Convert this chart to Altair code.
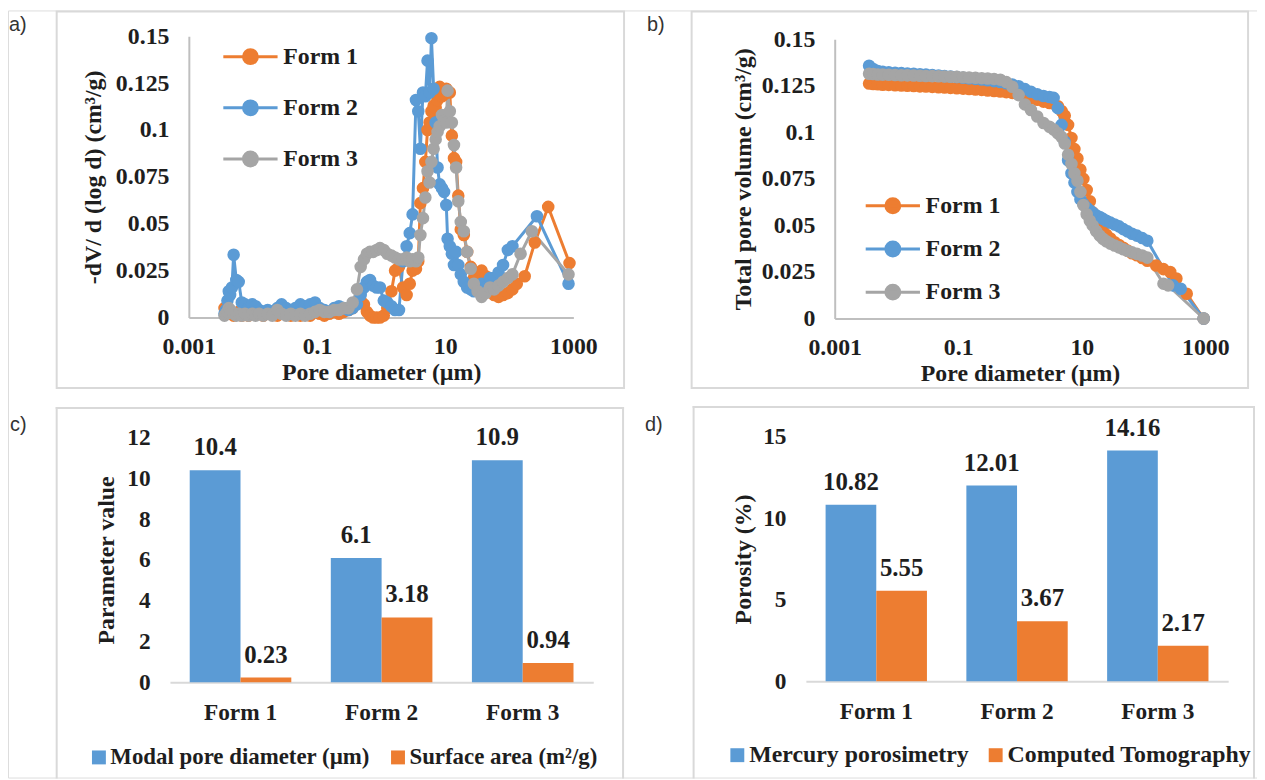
import altair as alt
import pandas as pd

FONT = "Liberation Serif"
TAGFONT = "Liberation Sans"
TXT = "#1e1e1e"
AXC = "#BFBFBF"
FRC = "#D9D9D9"
W, H = 1257, 772

forms = ["Form 1", "Form 2", "Form 3"]
form_colors = ["#ED7D31", "#5B9BD5", "#A5A5A5"]
x_ticks = [0.001, 0.1, 10, 1000]
pv_yticks = [0, 0.025, 0.05, 0.075, 0.1, 0.125, 0.15]

# ---------- panel a: -dV/d(log d) ----------
a_diam = [0.0036, 0.0038, 0.004, 0.0042, 0.0044, 0.0047, 0.005, 0.0055, 0.006, 0.0067,
          0.0075, 0.0085, 0.0097, 0.011, 0.0125, 0.0145, 0.017, 0.02, 0.024, 0.028,
          0.033, 0.039, 0.046, 0.055, 0.065, 0.078, 0.093, 0.11, 0.13, 0.155,
          0.185, 0.22, 0.26, 0.31, 0.36, 0.42, 0.48, 0.54, 0.6, 0.67,
          0.75, 0.85, 0.96, 1.1, 1.25, 1.45, 1.65, 1.9, 2.2, 2.5,
          2.8, 3.1, 3.5, 3.8, 4.1, 4.5, 4.9, 5.3, 5.7, 6.1,
          6.6, 7.1, 7.6, 8.2, 8.9, 9.6, 10.4, 10.9, 11.8, 12.7,
          13.7, 14.8, 16, 17.5, 19.5, 22, 25, 28, 32, 37,
          43, 50, 58, 68, 80, 95, 112]
a_form1 = [0.005, 0.003, 0.002, 0.002, 0.003, 0.002, 0.001, 0.002, 0.003, 0.001,
           0.002, 0.001, 0.002, 0.004, 0.002, 0.001, 0.003, 0.002, 0.001, 0.002,
           0.003, 0.001, 0.002, 0.001, 0.002, 0.001, 0.003, 0.002, 0.001, 0.002,
           0.003, 0.002, 0.003, 0.004, 0.005, 0.008, 0.009, 0.007, 0.003, 0.001,
           0.0, 0.0, 0.0, 0.001, 0.005, 0.014, 0.025, 0.027, 0.016, 0.012,
           0.018, 0.025, 0.026, 0.030, 0.061, 0.069, 0.083, 0.100, 0.104, 0.110,
           0.113, 0.112, 0.116, 0.123, 0.118, 0.119, 0.122, 0.121, 0.120, 0.097,
           0.085, 0.083, 0.065, 0.047, 0.044, 0.035, 0.027, 0.021, 0.023, 0.025,
           0.022, 0.014, 0.012, 0.011, 0.012, 0.013, 0.015]
a_form2 = [0.002, 0.004, 0.009, 0.014, 0.012, 0.016, 0.0335, 0.020, 0.019, 0.008,
           0.007, 0.005, 0.007, 0.006, 0.004, 0.003, 0.004, 0.003, 0.005, 0.007,
           0.005, 0.004, 0.005, 0.007, 0.006, 0.007, 0.008, 0.005, 0.004, 0.003,
           0.005, 0.006, 0.005, 0.004, 0.005, 0.007, 0.012, 0.016, 0.019, 0.020,
           0.017, 0.016, 0.016, 0.009, 0.008, 0.006, 0.004, 0.004, 0.030, 0.038,
           0.045, 0.055, 0.116, 0.110, 0.090, 0.120, 0.118, 0.137, 0.120, 0.149,
           0.122, 0.104, 0.080, 0.071, 0.069, 0.067, 0.060, 0.042, 0.038, 0.034,
           0.028, 0.035, 0.028, 0.023, 0.019, 0.016, 0.015, 0.014, 0.016, 0.018,
           0.016, 0.021, 0.021, 0.024, 0.028, 0.036, 0.038]
a_form3 = [0.001, 0.002, 0.003, 0.005, 0.004, 0.003, 0.002, 0.001, 0.002, 0.001,
           0.002, 0.001, 0.002, 0.001, 0.002, 0.001, 0.002, 0.001, 0.004, 0.002,
           0.001, 0.002, 0.001, 0.002, 0.001, 0.002, 0.003, 0.004, 0.003, 0.003,
           0.004, 0.004, 0.005, 0.005, 0.008, 0.015, 0.027, 0.031, 0.034, 0.035,
           0.035, 0.036, 0.037, 0.036, 0.034, 0.033, 0.032, 0.031, 0.031, 0.032,
           0.030, 0.031, 0.030, 0.032, 0.044, 0.053, 0.064, 0.078, 0.072, 0.083,
           0.090, 0.095, 0.099, 0.102, 0.108, 0.105, 0.104, 0.121, 0.110, 0.104,
           0.092, 0.080, 0.062, 0.051, 0.046, 0.035, 0.026, 0.018, 0.014, 0.011,
           0.013, 0.016, 0.015, 0.017, 0.019, 0.021, 0.023]
a_tail_diam = [[131, 174, 250, 405, 870], [270, 840], [150, 225, 840]]
a_tail_vals = [[0.018, 0.022, 0.040, 0.059, 0.029], [0.054, 0.018], [0.034, 0.046, 0.023]]

# ---------- panel b: cumulative pore volume ----------
b_diam = [0.0036, 0.0042, 0.005, 0.006, 0.0075, 0.0095, 0.012, 0.015, 0.019, 0.024,
          0.03, 0.038, 0.048, 0.06, 0.075, 0.095, 0.12, 0.15, 0.19, 0.24,
          0.3, 0.38, 0.48, 0.6, 0.75, 0.95, 1.2, 1.5, 1.9, 2.4,
          3.0, 3.5, 4.1, 4.7, 5.3, 6.0, 6.8, 7.6, 8.5, 9.5,
          10.6, 12, 13.5, 15, 17, 19.5, 22, 25, 29, 34,
          40, 47, 55, 65, 78, 95, 115]
b_form1 = [0.1262, 0.1260, 0.1258, 0.1256, 0.1255, 0.1253, 0.1252, 0.1250, 0.1249, 0.1247,
           0.1246, 0.1244, 0.1242, 0.1241, 0.1239, 0.1237, 0.1235, 0.1233, 0.1230, 0.1228,
           0.1225, 0.1222, 0.1219, 0.1216, 0.1212, 0.1205, 0.1195, 0.1185, 0.1175, 0.1165,
           0.1158, 0.1155, 0.1140, 0.1115, 0.1090, 0.1040, 0.0970, 0.0910, 0.0860, 0.0800,
           0.0750, 0.0690, 0.0630, 0.0570, 0.0525, 0.0495, 0.0470, 0.0450, 0.0430, 0.0410,
           0.0395, 0.0380, 0.0365, 0.0350, 0.0340, 0.0325, 0.0310]
b_form2 = [0.1358, 0.1340, 0.1330, 0.1325, 0.1322, 0.1320, 0.1318, 0.1316, 0.1314, 0.1312,
           0.1310, 0.1308, 0.1305, 0.1302, 0.1300, 0.1297, 0.1293, 0.1290, 0.1287, 0.1284,
           0.1280, 0.1275, 0.1270, 0.1264, 0.1257, 0.1248, 0.1232, 0.1218, 0.1205, 0.1195,
           0.1190, 0.1185, 0.1130, 0.1040, 0.0950, 0.0850, 0.0780, 0.0730, 0.0680, 0.0640,
           0.0615, 0.0595, 0.0580, 0.0568, 0.0555, 0.0545, 0.0535, 0.0525, 0.0515, 0.0505,
           0.0495, 0.0480, 0.0468, 0.0455, 0.0445, 0.0432, 0.0418]
b_form3 = [0.1315, 0.1313, 0.1311, 0.1310, 0.1309, 0.1308, 0.1307, 0.1306, 0.1305, 0.1304,
           0.1303, 0.1302, 0.1301, 0.1300, 0.1299, 0.1298, 0.1296, 0.1295, 0.1293, 0.1291,
           0.1289, 0.1287, 0.1283, 0.1270, 0.1245, 0.1200, 0.1150, 0.1120, 0.1085, 0.1050,
           0.1030, 0.1015, 0.0995, 0.0975, 0.0940, 0.0880, 0.0830, 0.0780, 0.0740, 0.0680,
           0.0610, 0.0560, 0.0525, 0.0500, 0.0470, 0.0445, 0.0428, 0.0415, 0.0402, 0.0392,
           0.0382, 0.0372, 0.0363, 0.0355, 0.0347, 0.0338, 0.0327]
b_tail_diam = [[160, 210, 270, 340, 500, 940], [300, 400, 940], [210, 250, 940]]
b_tail_vals = [[0.0285, 0.0265, 0.0250, 0.0215, 0.0133, 0.0], [0.0178, 0.0160, 0.0],
               [0.0187, 0.0178, 0.0]]

# ---------- panel c ----------
c_series = ["Modal pore diameter (µm)", "Surface area (m²/g)"]
c_modal = [10.4, 6.1, 10.9]
c_surface = [0.23, 3.18, 0.94]
c_yticks = [0, 2, 4, 6, 8, 10, 12]

# ---------- panel d ----------
d_series = ["Mercury porosimetry", "Computed Tomography"]
d_mercury = [10.82, 12.01, 14.16]
d_ct = [5.55, 3.67, 2.17]
d_yticks = [0, 5, 10, 15]
bar_colors = ["#5B9BD5", "#ED7D31"]


def long_lines(common_d, vals_list, tails_d, tails_v):
    rows = []
    for f, vals, td, tv in zip(forms, vals_list, tails_d, tails_v):
        assert len(vals) == len(common_d)
        for d, v in zip(list(common_d) + td, list(vals) + tv):
            rows.append({"form": f, "d": d, "v": v})
    return pd.DataFrame(rows)


df_a = long_lines(a_diam, [a_form1, a_form2, a_form3], a_tail_diam, a_tail_vals)
df_b = long_lines(b_diam, [b_form1, b_form2, b_form3], b_tail_diam, b_tail_vals)
df_c = pd.DataFrame({"form": forms * 2, "series": [c_series[0]] * 3 + [c_series[1]] * 3,
                     "val": c_modal + c_surface})
df_d = pd.DataFrame({"form": forms * 2, "series": [d_series[0]] * 3 + [d_series[1]] * 3,
                     "val": d_mercury + d_ct})

ONE = pd.DataFrame({"k": [0]})
LEG_PATH = "M-3.9,0H3.9M1,0A1,1,0,1,1,-1,0A1,1,0,1,1,1,0Z"
LABEL_EXPR = "'' + datum.value"


def ax_style(label_size):
    return dict(labelFont=FONT, labelFontSize=label_size, labelFontWeight="bold",
                labelColor=TXT, titleFont=FONT, titleFontSize=24, titleFontWeight="bold",
                titleColor=TXT, ticks=False, tickSize=0, grid=False)


def frame_rect(x0, x1, y0, y1):
    return alt.Chart(ONE).mark_rect(fillOpacity=0, stroke=FRC, strokeWidth=2).encode(
        x=alt.value(x0), x2=alt.value(x1), y=alt.value(y0), y2=alt.value(y1))


def frame_open(x0, x1, y0, y1):
    base = alt.Chart(ONE).mark_rule(color=FRC, strokeWidth=2, strokeCap="square")
    return [base.encode(x=alt.value(x0), y=alt.value(y0), y2=alt.value(y1)),
            base.encode(x=alt.value(x1), y=alt.value(y0), y2=alt.value(y1)),
            base.encode(x=alt.value(x0), x2=alt.value(x1), y=alt.value(y0))]


def tag(text, x, y):
    return alt.Chart(ONE).mark_text(text=text, align="left", baseline="middle", font=TAGFONT,
                                    fontSize=20, color="#333333").encode(
        x=alt.value(x), y=alt.value(y))


def line_panel(df, xr, yr, ytitle, ytitle_dx, legx, legy, rowpad):
    xsc = alt.Scale(type="log", domain=[0.001, 1000], nice=False, range=[xr[0], xr[1]])
    ysc = alt.Scale(domain=[0, 0.15], nice=False, range=[yr[0], yr[1]])
    xax = alt.Axis(orient="bottom", offset=yr[0] - H, values=x_ticks, labelExpr=LABEL_EXPR,
                   title="Pore diameter (µm)", titleX=(xr[0] + xr[1]) / 2, titleY=55,
                   titleAlign="center", titleBaseline="middle", labelPadding=17,
                   labelFlush=False, labelOverlap=False, domainColor=AXC, domainWidth=2,
                   **ax_style(24))
    yax = alt.Axis(orient="left", offset=-xr[0], values=pv_yticks, labelExpr=LABEL_EXPR,
                   title=ytitle, titleX=ytitle_dx, titleY=(yr[0] + yr[1]) / 2, titleAngle=270,
                   titleAlign="center", titleBaseline="middle", labelPadding=20,
                   labelOverlap=False, domainColor=AXC, domainWidth=2, **ax_style(24))
    fsc = alt.Scale(domain=forms, range=form_colors)
    leg = alt.Legend(title=None, orient="none", legendX=legx, legendY=legy, padding=0,
                     symbolType=LEG_PATH, symbolSize=196, symbolStrokeWidth=3,
                     labelFont=FONT, labelFontSize=24, labelFontWeight="bold", labelColor=TXT,
                     labelOffset=21, rowPadding=rowpad, labelLimit=300)
    lines = alt.Chart(df).mark_line(strokeWidth=3).encode(
        x=alt.X("d:Q", scale=xsc, axis=xax), y=alt.Y("v:Q", scale=ysc, axis=yax),
        stroke=alt.Stroke("form:N", scale=fsc, legend=leg))
    pts = alt.Chart(df).mark_circle(size=160, opacity=1).encode(
        x=alt.X("d:Q", scale=xsc, axis=xax), y=alt.Y("v:Q", scale=ysc, axis=yax),
        fill=alt.Fill("form:N", scale=fsc, legend=leg))
    return alt.layer(lines, pts)


def bar_panel(df, series, xr, yr, ymax, yticks, ytitle, ytitle_dx, legx, legy, colpad,
              legfont):
    x = alt.X("form:N", sort=forms,
              scale=alt.Scale(domain=forms, range=[xr[0], xr[1]], paddingInner=0.28,
                              paddingOuter=0.14),
              axis=alt.Axis(orient="bottom", offset=yr[0] - H, title=None, labelAngle=0,
                            labelPadding=19, domainColor=FRC, domainWidth=2,
                            **ax_style(23.5)))
    xo = alt.XOffset("series:N", sort=series,
                     scale=alt.Scale(domain=series, paddingInner=0, paddingOuter=0))
    y = alt.Y("val:Q", scale=alt.Scale(domain=[0, ymax], nice=False, range=[yr[0], yr[1]]),
              axis=alt.Axis(orient="left", offset=-xr[0], values=yticks, domain=False,
                            labelPadding=20, title=ytitle, titleX=ytitle_dx,
                            titleY=(yr[0] + yr[1]) / 2, titleAngle=270, titleAlign="center",
                            titleBaseline="middle", **ax_style(23.5)))
    color = alt.Color("series:N", scale=alt.Scale(domain=series, range=bar_colors),
                      legend=alt.Legend(title=None, orient="none", legendX=legx, legendY=legy,
                                        direction="horizontal", padding=0, symbolType="square",
                                        symbolSize=196, symbolStrokeWidth=0, labelOffset=0,
                                        columnPadding=colpad, labelFont=FONT,
                                        labelFontSize=legfont, labelFontWeight="bold",
                                        labelColor=TXT, labelLimit=400))
    bars = alt.Chart(df).mark_bar().encode(x=x, xOffset=xo, y=y, color=color)
    labels = alt.Chart(df).mark_text(dy=-23, baseline="middle", font=FONT, fontSize=25,
                                     fontWeight="bold", color=TXT).encode(
        x=x, xOffset=xo, y=y, text=alt.Text("val:Q", format="~g"))
    return alt.layer(bars, labels)


pa = line_panel(df_a, (182, 569), (309, 26), "-dV/ d (log d) (cm³/g)", -96, 232, 34.5, 25.5)
pb = line_panel(df_b, (832, 1205), (310, 29), "Total pore volume (cm³/g)", -92, 878.5, 184.5,
                17.5)
pc = bar_panel(df_c, c_series, (163, 589), (676, 430), 12, c_yticks, "Parameter value", -64,
               80, 740, 16, 23)
pd_ = bar_panel(df_d, d_series, (803, 1228), (675, 429), 15, d_yticks, "Porosity (%)", -63,
                722, 737.5, 14, 24)

frames = ([frame_rect(49, 620, 1, 380), frame_rect(688, 1248, 1, 380)]
          + frame_open(49, 619, 400, H) + frame_open(690, 1254, 399, H))
tags = [tag("a)", 1, 15), tag("b)", 643, 15), tag("c)", 2, 417), tag("d)", 641, 417)]

chart = (alt.layer(*frames, pa, pb, pc, pd_, *tags)
         .resolve_scale(x="independent", y="independent", color="independent",
                        fill="independent", stroke="independent", xOffset="independent")
         .resolve_axis(x="independent", y="independent")
         .resolve_legend(color="independent", fill="independent", stroke="independent")
         .properties(width=W, height=H, padding=0,
                     autosize=alt.AutoSizeParams(type="none"))
         .configure_view(strokeWidth=0)
         .configure(background="white"))

chart.save("out.html", embed_options={"renderer": "svg", "actions": False})
